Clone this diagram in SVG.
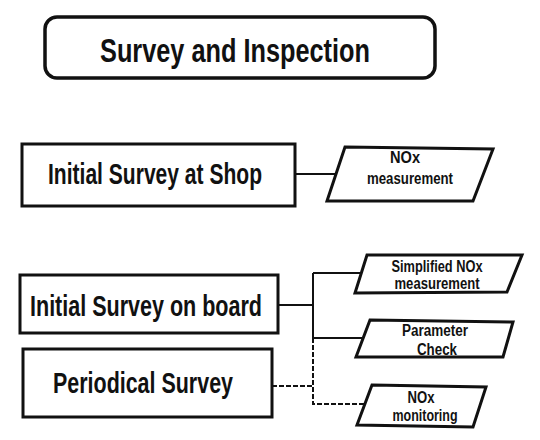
<svg xmlns="http://www.w3.org/2000/svg" width="540" height="440" viewBox="0 0 540 440">
<style>
.box{fill:#fff;stroke:#111;stroke-width:3}
.para{fill:#fff;stroke:#111;stroke-width:3;stroke-linejoin:miter}
.big{font-family:"Liberation Sans",Arial,sans-serif;font-weight:bold;fill:#111}
.small{font-family:"Liberation Sans",Arial,sans-serif;font-weight:bold;font-size:16px;fill:#111;text-anchor:middle}
.ln{fill:none;stroke:#111;stroke-width:2}
.dash{fill:none;stroke:#111;stroke-width:2;stroke-dasharray:5,2}
</style>
<rect width="540" height="440" fill="#fff"/>
<g id="title">
<rect class="box" x="45" y="17" width="390" height="61" rx="12" ry="12" style="stroke-width:3.5"/>
<text class="big" x="100" y="62" font-size="33" textLength="270" lengthAdjust="spacingAndGlyphs">Survey and Inspection</text>
</g>
<g id="connectors">
<line class="ln" x1="295" y1="174" x2="338" y2="174"/>
<line class="ln" x1="278" y1="305" x2="313" y2="305"/>
<line class="ln" x1="313" y1="273" x2="313" y2="338"/>
<line class="ln" x1="313" y1="273" x2="362" y2="273"/>
<line class="ln" x1="313" y1="338" x2="362" y2="338"/>
<line class="dash" x1="272" y1="386" x2="313" y2="386"/>
<polyline class="dash" points="313,338 313,404 366,404"/>
</g>
<g id="shop">
<rect class="box" x="22" y="144" width="273" height="62"/>
<text class="big" x="48" y="184" font-size="30" textLength="214" lengthAdjust="spacingAndGlyphs">Initial Survey at Shop</text>
</g>
<g id="board">
<rect class="box" x="20" y="275" width="258" height="58"/>
<text class="big" x="30" y="316" font-size="30" textLength="232" lengthAdjust="spacingAndGlyphs">Initial Survey on board</text>
</g>
<g id="periodical">
<rect class="box" x="23" y="349" width="249" height="68"/>
<text class="big" x="53" y="393" font-size="30" textLength="180" lengthAdjust="spacingAndGlyphs">Periodical Survey</text>
</g>
<g id="nox-measurement">
<polygon class="para" points="345,147 493,149 473,201 327,201"/>
<text class="small" x="405" y="163" textLength="30" lengthAdjust="spacingAndGlyphs">NOx</text>
<text class="small" x="410" y="184" textLength="86" lengthAdjust="spacingAndGlyphs">measurement</text>
</g>
<g id="simplified">
<polygon class="para" points="367,255 522,255 507,292 355,293"/>
<text class="small" x="437" y="272" textLength="91" lengthAdjust="spacingAndGlyphs">Simplified NOx</text>
<text class="small" x="437" y="289" textLength="85" lengthAdjust="spacingAndGlyphs">measurement</text>
</g>
<g id="parameter">
<polygon class="para" points="370,320 513,322 503,357 356,357"/>
<text class="small" x="435" y="336" textLength="66" lengthAdjust="spacingAndGlyphs">Parameter</text>
<text class="small" x="437" y="355" textLength="40" lengthAdjust="spacingAndGlyphs">Check</text>
</g>
<g id="nox-monitoring">
<polygon class="para" points="372,385 486,387 473,427 357,425"/>
<text class="small" x="421" y="403" textLength="27" lengthAdjust="spacingAndGlyphs">NOx</text>
<text class="small" x="425" y="421" textLength="65" lengthAdjust="spacingAndGlyphs">monitoring</text>
</g>
</svg>
